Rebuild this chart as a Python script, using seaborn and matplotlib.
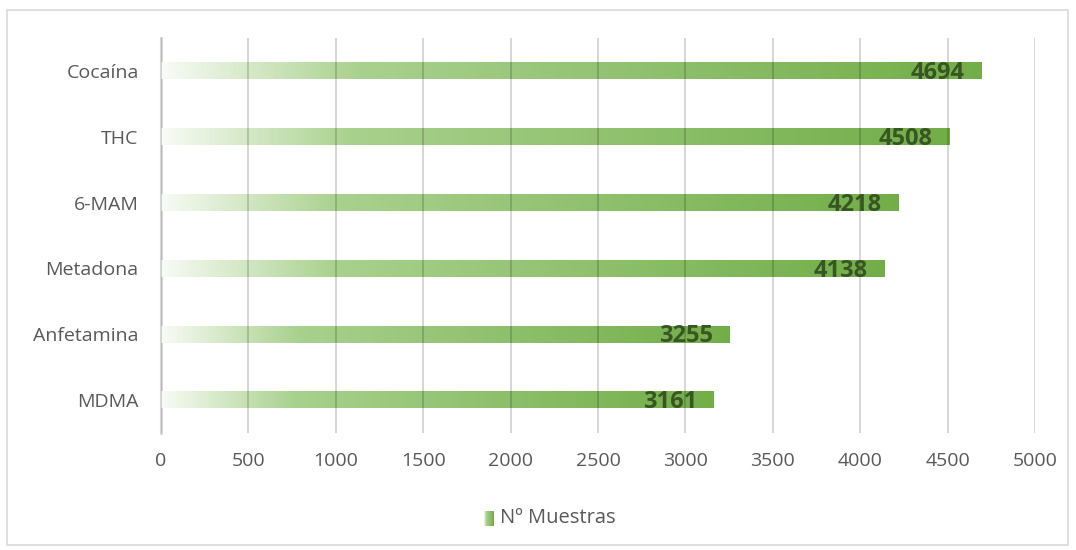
import numpy as np
import matplotlib
matplotlib.use("Agg")
import matplotlib.pyplot as plt
from matplotlib.colors import LinearSegmentedColormap
from matplotlib.patches import Rectangle
import seaborn as sns

# data
categories = ["Cocaína", "THC", "6-MAM", "Metadona", "Anfetamina", "MDMA"]
muestras = [4694, 4508, 4218, 4138, 3255, 3161]
series_name = "Nº Muestras"
x_ticks = [0, 500, 1000, 1500, 2000, 2500, 3000, 3500, 4000, 4500, 5000]

sns.set_theme(style="white")
plt.rcParams["font.family"] = ["Open Sans", "DejaVu Sans"]

grad = LinearSegmentedColormap.from_list(
    "bar_grad", [(0.0, "#f8fbf5"), (0.24, "#a9d18e"), (1.0, "#72ae48")])
grad_img = np.linspace(0, 1, 256).reshape(1, -1)

fig = plt.figure(figsize=(10.76, 5.5), dpi=100)
ax = fig.add_axes([0.1496, 0.2127, 0.8123, 0.718])

sns.barplot(x=muestras, y=categories, orient="h", width=0.25,
            color="#70ad47", ax=ax)

# swap solid bars for a left-to-right gradient
for p in ax.patches:
    x0, y0 = p.get_x(), p.get_y()
    w, h = p.get_width(), p.get_height()
    p.set_visible(False)
    ax.imshow(grad_img, cmap=grad, aspect="auto", interpolation="bicubic",
              extent=[x0, x0 + w, y0 + h, y0], zorder=2)

for i, v in enumerate(muestras):
    ax.annotate(f"{v}", (v, i), xytext=(-12, -1.5), textcoords="offset points",
                ha="right", va="center", fontsize=17, fontweight="bold",
                color="#375623", zorder=4)

ax.set_xlim(0, 5000)
ax.set_ylim(5.5, -0.5)
ax.set_xticks(x_ticks)
ax.set_xticklabels([str(t) for t in x_ticks])
ax.grid(axis="x", color="#000000", alpha=0.16, linewidth=1.4, zorder=3)
ax.grid(axis="y", visible=False)
ax.set_axisbelow(False)
for s in ["top", "right", "bottom"]:
    ax.spines[s].set_visible(False)
ax.spines["left"].set_color("#d9d9d9")
ax.spines["left"].set_linewidth(2.2)
ax.spines["left"].set_zorder(1)
ax.tick_params(axis="x", length=0, pad=14, labelsize=14, labelcolor="#595959")
ax.tick_params(axis="y", length=0, pad=16, labelsize=14, labelcolor="#595959")
ax.set_xlabel("")
ax.set_ylabel("")

# legend: gradient swatch + label
sw = fig.add_axes([484 / 1076, 1 - 526 / 550, 10 / 1076, 15 / 550])
sw.imshow(grad_img, cmap=grad, aspect="auto", extent=[0, 1, 0, 1])
sw.set_axis_off()
fig.text(500 / 1076, 1 - 518 / 550, series_name, ha="left", va="center",
         fontsize=14.5, color="#595959")

# chart border
fig.patches.append(Rectangle((7 / 1076, 1 - 545 / 550), 1061 / 1076, 535 / 550,
                             transform=fig.transFigure, fill=False,
                             edgecolor="#d9d9d9", linewidth=1.2))

fig.savefig("out.png", dpi=100)
